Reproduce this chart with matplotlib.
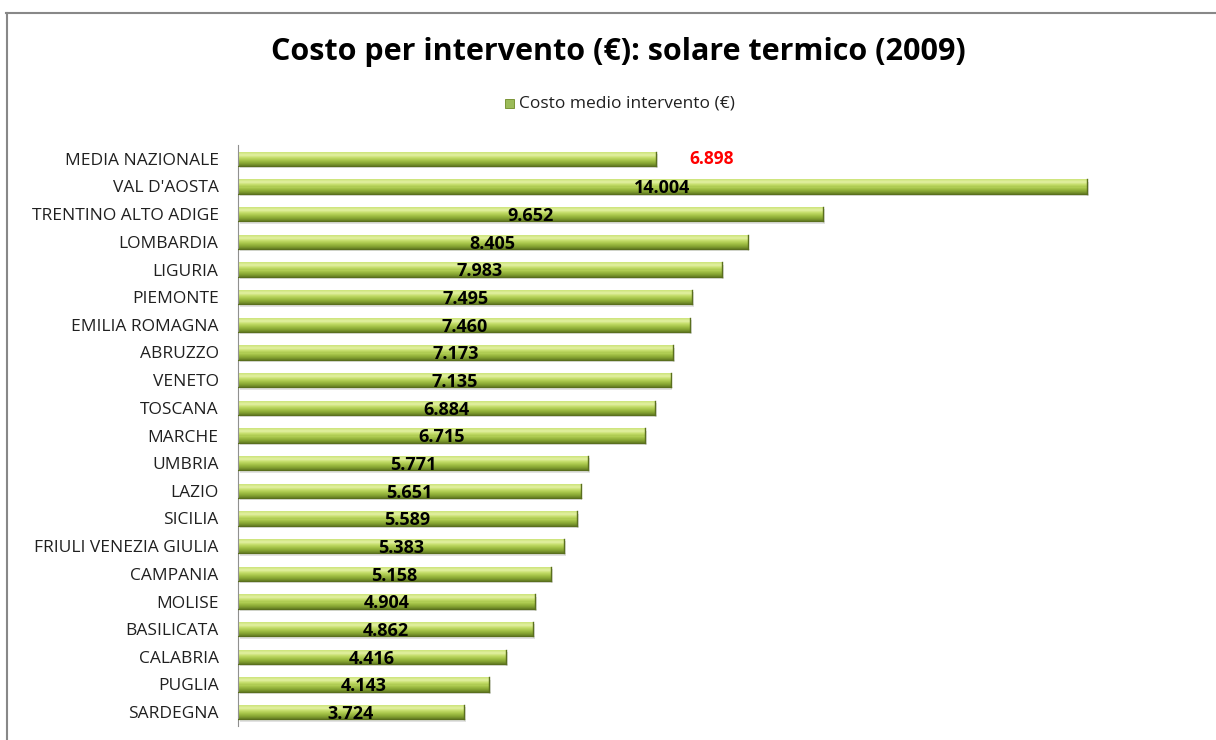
import numpy as np
import matplotlib
matplotlib.use('Agg')
import matplotlib.pyplot as plt
from matplotlib.patches import Rectangle
from matplotlib.lines import Line2D

regioni = ['MEDIA NAZIONALE', "VAL D'AOSTA", 'TRENTINO ALTO ADIGE', 'LOMBARDIA',
           'LIGURIA', 'PIEMONTE', 'EMILIA ROMAGNA', 'ABRUZZO', 'VENETO',
           'TOSCANA', 'MARCHE', 'UMBRIA', 'LAZIO', 'SICILIA',
           'FRIULI VENEZIA GIULIA', 'CAMPANIA', 'MOLISE', 'BASILICATA',
           'CALABRIA', 'PUGLIA', 'SARDEGNA']
costo = [6.898, 14.004, 9.652, 8.405, 7.983, 7.495, 7.460, 7.173, 7.135,
         6.884, 6.715, 5.771, 5.651, 5.589, 5.383, 5.158, 4.904, 4.862,
         4.416, 4.143, 3.724]
etichette = ['6.898', '14.004', '9.652', '8.405', '7.983', '7.495', '7.460',
             '7.173', '7.135', '6.884', '6.715', '5.771', '5.651', '5.589',
             '5.383', '5.158', '4.904', '4.862', '4.416', '4.143', '3.724']

W, H = 1216, 740
fig = plt.figure(figsize=(W / 100, H / 100), dpi=100)
plt.rcParams['font.family'] = ['Open Sans', 'DejaVu Sans']

# axes in pixel coords: zero at x=238, 14.004 at x=1087
x0, x1 = 238, 1190
y_top, y_bot = 145, 726
ax = fig.add_axes([x0 / W, 1 - y_bot / H, (x1 - x0) / W, (y_bot - y_top) / H])
px_per_unit = (1087 - 238) / 14.004
ax.set_xlim(0, (x1 - x0) / px_per_unit)
n = len(regioni)
ax.set_ylim(n - 0.5, -0.5)

# vertical gradient for bars, drawn as thin strips (k=0 is the top strip)
cmap = matplotlib.colors.LinearSegmentedColormap.from_list(
    'verde', ['#cfe57f', '#e2f0a2', '#c3dc68', '#a6c44a', '#8aa935', '#6b8526'])
bh = 0.52
nstrip = 14
dh = bh / nstrip
ypos = np.arange(n)
for y, v in zip(ypos, costo):
    # soft shadow below the bar
    ax.barh(y + 0.08, v, height=bh, left=0.03, color='#b8b8b8', alpha=0.4,
            lw=0, zorder=1)
    for k in range(nstrip):
        ax.barh(y - bh / 2 + (k + 0.5) * dh, v, height=dh * 1.05,
                color=cmap(k / (nstrip - 1)), lw=0, zorder=2)
    # darker bottom and right edge
    ax.plot([0, v], [y + bh / 2, y + bh / 2], color='#5a6f1e', lw=0.9,
            zorder=3)
    ax.plot([v, v], [y - bh / 2, y + bh / 2], color='#5a6f1e', lw=1.0,
            zorder=3)

for i, (y, v, t) in enumerate(zip(ypos, costo, etichette)):
    if i == 0:
        ax.text(v + 0.92, y, t, color='#ff0000', fontsize=12.5,
                fontweight='bold', ha='center', va='center', zorder=4)
    else:
        ax.text(v / 2, y + 0.07, t, color='black', fontsize=13,
                fontweight='bold', ha='center', va='center', zorder=4)

ax.set_yticks(ypos)
ax.set_yticklabels(regioni, fontsize=12.5, color='#202020')
ax.tick_params(axis='y', length=0, pad=14)
ax.set_xticks([])
for s in ['top', 'right', 'bottom']:
    ax.spines[s].set_visible(False)
ax.spines['left'].set_color('#909090')
ax.spines['left'].set_linewidth(0.8)

fig.text(618 / W, 1 - 52 / H, 'Costo per intervento (€): solare termico (2009)',
         ha='center', va='center', fontsize=22, fontweight='bold')

# legend
fig.patches.append(Rectangle((505 / W, 1 - 108 / H), 9 / W, 9 / H,
                             transform=fig.transFigure, fc='#9bbb59',
                             ec='#6e8a25', lw=0.6))
fig.text(519 / W, 1 - 104 / H, 'Costo medio intervento (€)', ha='left',
         va='center', fontsize=12.5, color='#202020')

# chart frame
fig.lines.append(Line2D([6 / W, 1], [1 - 12.5 / H, 1 - 12.5 / H],
                        transform=fig.transFigure, color='#888888', lw=1.5))
fig.lines.append(Line2D([6.5 / W, 6.5 / W], [0, 1 - 12.5 / H],
                        transform=fig.transFigure, color='#888888', lw=1.5))

fig.savefig('out.png', dpi=100, facecolor='white')
